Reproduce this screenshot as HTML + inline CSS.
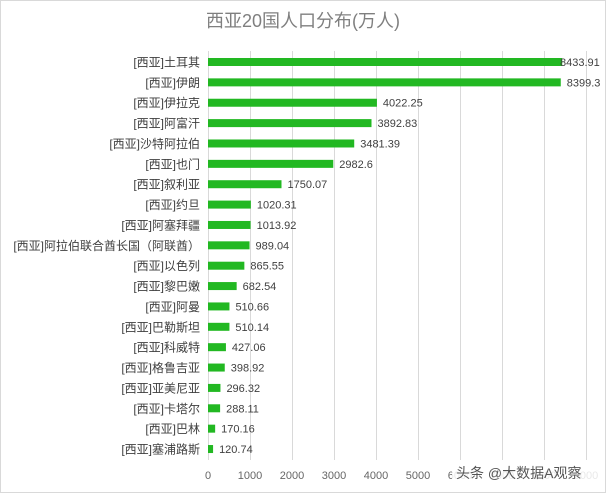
<!DOCTYPE html>
<html><head><meta charset="utf-8"><style>
html,body{margin:0;padding:0;background:#fff;}
svg{display:block;}
text{font-family:"Liberation Sans","Noto Sans CJK SC",sans-serif;}
</style></head><body>
<svg width="606" height="493" viewBox="0 0 606 493">
<rect x="0.5" y="0.5" width="605" height="492" fill="#fff" stroke="#d9d9d9"/>
<text x="303" y="27" text-anchor="middle" font-size="18" fill="#7f7f7f">西亚20国人口分布(万人)</text>
<g stroke="#d9d9d9" stroke-width="1">
<line x1="208.5" y1="51" x2="208.5" y2="460"/>
<line x1="250.5" y1="51" x2="250.5" y2="460"/>
<line x1="292.5" y1="51" x2="292.5" y2="460"/>
<line x1="334.5" y1="51" x2="334.5" y2="460"/>
<line x1="376.5" y1="51" x2="376.5" y2="460"/>
<line x1="418.5" y1="51" x2="418.5" y2="460"/>
<line x1="460.5" y1="51" x2="460.5" y2="460"/>
<line x1="502.5" y1="51" x2="502.5" y2="460"/>
<line x1="544.5" y1="51" x2="544.5" y2="460"/>
<line x1="586.5" y1="51" x2="586.5" y2="460"/>
</g>
<g font-size="11" fill="#666" text-anchor="middle">
<text x="208" y="479">0</text><text x="250" y="479">1000</text><text x="292" y="479">2000</text>
<text x="334" y="479">3000</text><text x="376" y="479">4000</text><text x="418" y="479">5000</text>
<text x="460" y="479">6000</text><text x="502" y="479">7000</text><text x="544" y="479">8000</text><text x="586" y="479">9000</text>
</g>
<g id="bars" fill="#22b822"></g>
<g id="labs" font-size="12" fill="#404040" text-anchor="end"></g>
<g id="vals" font-size="11" fill="#404040"></g>
<rect x="452" y="462" width="146" height="20" fill="#fff" opacity="0.85"/>
<text x="456" y="478" font-size="14" fill="#555">头条 @大数据A观察</text>
</svg>
<script>
var d=[["土耳其",8433.91],["伊朗",8399.3],["伊拉克",4022.25],["阿富汗",3892.83],["沙特阿拉伯",3481.39],["也门",2982.6],["叙利亚",1750.07],["约旦",1020.31],["阿塞拜疆",1013.92],["阿拉伯联合酋长国（阿联酋）",989.04],["以色列",865.55],["黎巴嫩",682.54],["阿曼",510.66],["巴勒斯坦",510.14],["科威特",427.06],["格鲁吉亚",398.92],["亚美尼亚",296.32],["卡塔尔",288.11],["巴林",170.16],["塞浦路斯",120.74]];
var ns="http://www.w3.org/2000/svg",b=document.getElementById("bars"),l=document.getElementById("labs"),v=document.getElementById("vals");
d.forEach(function(r,i){var y=62+i*20.37,w=r[1]*0.042;
var e=document.createElementNS(ns,"rect");e.setAttribute("x",208);e.setAttribute("y",y-4);e.setAttribute("width",w);e.setAttribute("height",8);b.appendChild(e);
var t=document.createElementNS(ns,"text");t.setAttribute("x",200);t.setAttribute("y",y+4.5);t.textContent="[西亚]"+r[0];l.appendChild(t);
var s=document.createElementNS(ns,"text");s.setAttribute("x",i==0?560:208+w+6);s.setAttribute("y",y+4);s.textContent=r[1];v.appendChild(s);});
</script>
</body></html>
